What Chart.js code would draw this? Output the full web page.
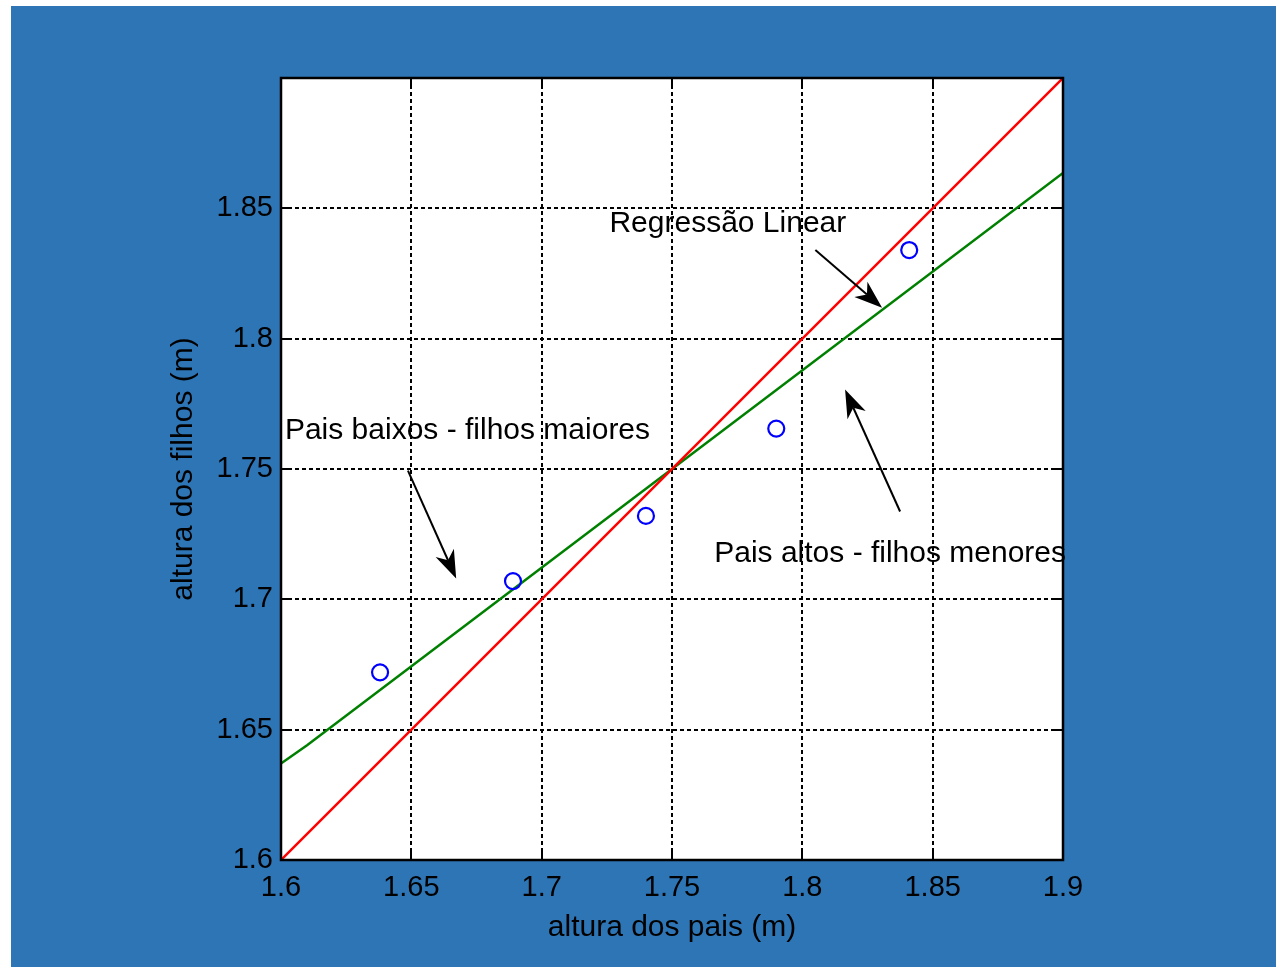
<!DOCTYPE html>
<html>
<head>
<meta charset="utf-8">
<title>Altura dos pais e dos filhos</title>
<script src="https://cdn.jsdelivr.net/npm/chart.js@4.4.0/dist/chart.umd.min.js"></script>
<style>
  html, body { margin: 0; padding: 0; background: #fff; }
  #wrap { position: absolute; left: 11px; top: 6px; width: 1265px; height: 961px; }
</style>
</head>
<body>
<div id="wrap"><canvas id="chart"></canvas></div>
<script>
// medidas (m)
const paisAltura = [1.638, 1.689, 1.740, 1.790, 1.841];
const filhosAltura = [1.672, 1.707, 1.732, 1.7655, 1.834];

// reta y = x
const identidadeX = [1.6, 1.9];
const identidadeY = [1.6, 1.9];

// reta de regressão
const regressaoX = [1.6, 1.61, 1.75, 1.9];
const regressaoY = [1.637, 1.644, 1.75, 1.8636];

const xTicks = [1.6, 1.65, 1.7, 1.75, 1.8, 1.85, 1.9];
const xTickLabels = ['1.6', '1.65', '1.7', '1.75', '1.8', '1.85', '1.9'];
const yTicks = [1.6, 1.65, 1.7, 1.75, 1.8, 1.85, 1.9];
const yTickLabels = ['1.6', '1.65', '1.7', '1.75', '1.8', '1.85', ''];

// textos com seta (coordenadas nos eixos)
const notas = [
  { texto: 'Regressão Linear', x: 1.726, y: 1.844, de: [1.805, 1.834], para: [1.8306, 1.8119] },
  { texto: 'Pais baixos - filhos maiores', x: 1.6015, y: 1.7648, de: [1.6487, 1.7494], para: [1.6672, 1.708] },
  { texto: 'Pais altos - filhos menores', x: 1.7662, y: 1.7176, de: [1.8375, 1.7337], para: [1.8164, 1.7805] }
];

const FONTE = '"Liberation Sans", Arial, sans-serif';
Chart.defaults.font.family = FONTE;
Chart.defaults.font.size = 29;
Chart.defaults.color = '#000';

const pares = (xs, ys) => xs.map((x, i) => ({ x, y: ys[i] }));

function seta(ctx, x1, y1, x2, y2) {
  const ang = Math.atan2(y2 - y1, x2 - x1);
  const L = 28, W = 10, N = 20;
  const c = Math.cos(ang), s = Math.sin(ang);
  ctx.beginPath();
  ctx.moveTo(x1, y1);
  ctx.lineTo(x2 - c * N, y2 - s * N);
  ctx.lineWidth = 2;
  ctx.strokeStyle = '#000';
  ctx.stroke();
  ctx.beginPath();
  ctx.moveTo(x2, y2);
  ctx.lineTo(x2 - c * L - s * W, y2 - s * L + c * W);
  ctx.lineTo(x2 - c * N, y2 - s * N);
  ctx.lineTo(x2 - c * L + s * W, y2 - s * L - c * W);
  ctx.closePath();
  ctx.fillStyle = '#000';
  ctx.fill();
}

const moldura = {
  id: 'moldura',
  beforeDraw(chart) {
    const { ctx, chartArea: a } = chart;
    ctx.save();
    ctx.fillStyle = '#2e75b6';
    ctx.fillRect(0, 0, chart.width, chart.height);
    ctx.fillStyle = '#fff';
    ctx.fillRect(a.left, a.top, a.right - a.left, a.bottom - a.top);
    ctx.restore();
  },
  beforeDatasetsDraw(chart) {
    // grade pontilhada
    const { ctx, chartArea: a, scales: { x, y } } = chart;
    ctx.save();
    ctx.strokeStyle = '#000';
    ctx.lineWidth = 2;
    ctx.setLineDash([4, 3]);
    ctx.beginPath();
    xTicks.slice(1, -1).forEach(v => {
      const px = Math.round(x.getPixelForValue(v));
      ctx.moveTo(px, a.top); ctx.lineTo(px, a.bottom);
    });
    yTicks.slice(1, -1).forEach(v => {
      const py = Math.round(y.getPixelForValue(v));
      ctx.moveTo(a.left, py); ctx.lineTo(a.right, py);
    });
    ctx.stroke();
    ctx.restore();
  },
  afterDatasetsDraw(chart) {
    const { ctx, chartArea: a, scales: { x, y } } = chart;
    ctx.save();
    // caixa e marcas internas
    ctx.strokeStyle = '#000';
    ctx.lineWidth = 2.5;
    ctx.strokeRect(a.left, a.top, a.right - a.left, a.bottom - a.top);
    ctx.lineWidth = 2;
    ctx.beginPath();
    const tk = 9;
    xTicks.forEach(v => {
      const px = Math.round(x.getPixelForValue(v));
      ctx.moveTo(px, a.bottom); ctx.lineTo(px, a.bottom - tk);
      ctx.moveTo(px, a.top); ctx.lineTo(px, a.top + tk);
    });
    yTicks.forEach(v => {
      const py = Math.round(y.getPixelForValue(v));
      ctx.moveTo(a.left, py); ctx.lineTo(a.left + tk, py);
      ctx.moveTo(a.right, py); ctx.lineTo(a.right - tk, py);
    });
    ctx.stroke();

    // anotações
    ctx.font = '30px ' + FONTE;
    ctx.textAlign = 'left';
    ctx.textBaseline = 'middle';
    notas.forEach(n => {
      ctx.fillStyle = '#000';
      ctx.fillText(n.texto, x.getPixelForValue(n.x), y.getPixelForValue(n.y));
      seta(ctx,
        x.getPixelForValue(n.de[0]), y.getPixelForValue(n.de[1]),
        x.getPixelForValue(n.para[0]), y.getPixelForValue(n.para[1]));
    });
    ctx.restore();
  }
};

new Chart(document.getElementById('chart'), {
  type: 'scatter',
  data: {
    datasets: [
      {
        label: 'medidas',
        data: pares(paisAltura, filhosAltura),
        showLine: false,
        pointRadius: 8,
        pointHoverRadius: 8,
        pointBorderWidth: 2.2,
        borderColor: '#0000ff',
        backgroundColor: 'rgba(0,0,0,0)'
      },
      {
        label: 'y = x',
        data: pares(identidadeX, identidadeY),
        showLine: true,
        pointRadius: 0,
        borderWidth: 2.5,
        borderColor: '#ff0000'
      },
      {
        label: 'regressão',
        data: pares(regressaoX, regressaoY),
        showLine: true,
        pointRadius: 0,
        borderWidth: 2.5,
        borderColor: '#008000'
      }
    ]
  },
  options: {
    responsive: true,
    maintainAspectRatio: false,
    animation: false,
    events: [],
    layout: { padding: { left: 150, right: 213, top: 72, bottom: 0 } },
    plugins: {
      legend: { display: false },
      tooltip: { enabled: false }
    },
    scales: {
      x: {
        type: 'linear',
        min: 1.6,
        max: 1.9,
        grid: { display: false, drawTicks: false },
        border: { display: false },
        afterBuildTicks: s => { s.ticks = xTicks.map(v => ({ value: v })); },
        afterFit: s => { s.height = 107; },
        ticks: {
          padding: 11,
          maxRotation: 0,
          autoSkip: false,
          callback: (v, i) => xTickLabels[i]
        },
        title: {
          display: true,
          text: 'altura dos pais (m)',
          font: { size: 30 },
          padding: { top: 0, bottom: 21 }
        }
      },
      y: {
        type: 'linear',
        min: 1.6,
        max: 1.9,
        grid: { display: false, drawTicks: false },
        border: { display: false },
        afterBuildTicks: s => { s.ticks = yTicks.map(v => ({ value: v })); },
        afterFit: s => { s.width = 120; },
        ticks: {
          padding: 8,
          autoSkip: false,
          callback: (v, i) => yTickLabels[i]
        },
        title: {
          display: true,
          text: 'altura dos filhos (m)',
          font: { size: 30 },
          padding: { top: 5, bottom: 0 }
        }
      }
    }
  },
  plugins: [moldura]
});
</script>
</body>
</html>
